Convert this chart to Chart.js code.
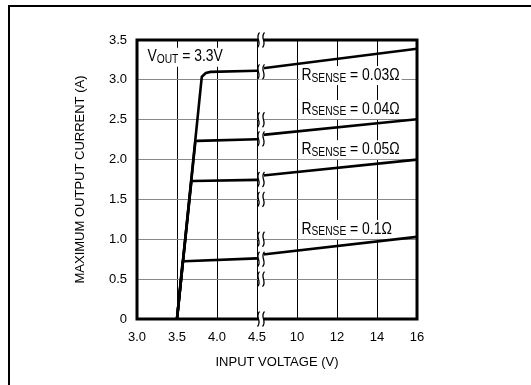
<!DOCTYPE html>
<html><head><meta charset="utf-8">
<script src="https://cdn.jsdelivr.net/npm/chart.js@4/dist/chart.umd.min.js"></script>
<style>html,body{margin:0;padding:0;background:#fff}#wrap{width:531px;height:385px}</style>
</head><body><div id="wrap"><canvas id="c" width="531" height="385"></canvas></div>
<script>
// ---- data (input voltage V, max output current A) ----
const xTickLabels = ['3.0','3.5','4.0','4.5','10','12','14','16'];
const yTickValues = [0, 0.5, 1.0, 1.5, 2.0, 2.5, 3.0, 3.5];

const v003Left  = [3.5, 3.81, 3.86, 3.92, 4.5];
const i003Left  = [0, 3.04, 3.085, 3.10, 3.115];
const v003Right = [8.3, 16];
const i003Right = [3.145, 3.39];

const v004Left  = [3.5, 3.73, 3.76, 4.5];
const i004Left  = [0, 2.23, 2.235, 2.255];
const v004Right = [8.3, 16];
const i004Right = [2.31, 2.505];

const v005Left  = [3.5, 3.68, 3.70, 4.5];
const i005Left  = [0, 1.73, 1.732, 1.745];
const v005Right = [8.3, 16];
const i005Right = [1.80, 2.00];

const v01Left   = [3.5, 3.57, 3.59, 4.5];
const i01Left   = [0, 0.72, 0.725, 0.76];
const v01Right  = [8.3, 16];
const i01Right  = [0.81, 1.03];

const breakCurrents = [3.5, 3.1, 2.5, 2.26, 1.75, 1.5, 1.0, 0.75, 0.5, 0];

// broken x axis: 3.0..4.5 in 0.5 steps, then 10..16 in 2 V steps
function xPos(v) { return v <= 4.5 ? (v - 3) / 0.5 : 4 + (v - 10) / 2; }
function pts(vs, is) { return vs.map((v, k) => ({x: xPos(v), y: is[k]})); }

const FONT = "'Liberation Sans', Arial, Helvetica, sans-serif";

const notes = [
  {v: 3.13, i: 3.29, a: 'V', sub: 'OUT', b: ' = 3.3V'},
  {v: 10.22, i: 3.06, a: 'R', sub: 'SENSE', b: ' = 0.03Ω'},
  {v: 10.22, i: 2.635, a: 'R', sub: 'SENSE', b: ' = 0.04Ω'},
  {v: 10.22, i: 2.13, a: 'R', sub: 'SENSE', b: ' = 0.05Ω'},
  {v: 10.22, i: 1.13, a: 'R', sub: 'SENSE', b: ' = 0.1Ω'}
];

function ds(vs, is) {
  return {data: pts(vs, is), showLine: true, borderColor: '#000', borderWidth: 2.6,
          pointRadius: 0, tension: 0, borderJoinStyle: 'round', borderCapStyle: 'butt', fill: false};
}

const decor = {
  id: 'decor',
  beforeDraw(chart) {
    const ctx = chart.ctx;
    ctx.save();
    ctx.fillStyle = '#fff';
    ctx.fillRect(0, 0, chart.width, chart.height);
    ctx.strokeStyle = '#000';
    ctx.lineWidth = 2;
    ctx.beginPath();
    ctx.moveTo(9, chart.height);
    ctx.lineTo(9, 6);
    ctx.lineTo(chart.width, 6);
    ctx.stroke();
    ctx.restore();
  },
  beforeDatasetsDraw(chart) {
    const ctx = chart.ctx, xs = chart.scales.x, ys = chart.scales.y;
    const sx = 0.82;
    ctx.save();
    notes.forEach(n => {
      const x = xs.getPixelForValue(xPos(n.v));
      const y = ys.getPixelForValue(n.i);
      const big = "17px " + FONT, small = "12.5px " + FONT;
      ctx.font = big; const wa = ctx.measureText(n.a).width; const wb = ctx.measureText(n.b).width;
      ctx.font = small; const ws = ctx.measureText(n.sub).width;
      const w = (wa + ws + wb) * sx;
      ctx.fillStyle = '#fff';
      ctx.fillRect(x - 2, y - 9, w + 4, 19);
      ctx.save();
      ctx.translate(x, y);
      ctx.scale(sx, 1);
      ctx.fillStyle = '#000';
      ctx.textBaseline = 'middle';
      ctx.textAlign = 'left';
      ctx.font = big; ctx.fillText(n.a, 0, 0);
      ctx.font = small; ctx.fillText(n.sub, wa, 3);
      ctx.font = big; ctx.fillText(n.b, wa + ws, 0);
      ctx.restore();
    });
    ctx.restore();
  },
  afterDatasetsDraw(chart) {
    const ctx = chart.ctx, a = chart.chartArea, xs = chart.scales.x, ys = chart.scales.y;
    ctx.save();
    ctx.strokeStyle = '#000';
    ctx.lineWidth = 3;
    ctx.strokeRect(a.left, a.top, a.right - a.left, a.bottom - a.top);
    const cx = xs.getPixelForValue(xPos(4.5)) + 4;
    breakCurrents.forEach(c => {
      const cy = ys.getPixelForValue(c);
      const h = 7.5;
      ctx.fillStyle = '#fff';
      ctx.fillRect(cx - 3, cy - h, 6, 2 * h);
      ctx.lineWidth = 1.3;
      [-2.5, 2.5].forEach(dx => {
        const x0 = cx + dx;
        ctx.beginPath();
        ctx.moveTo(x0 + 1, cy - h);
        ctx.bezierCurveTo(x0 - 4, cy - 2, x0 + 4, cy + 2, x0 - 1, cy + h);
        ctx.stroke();
      });
    });
    ctx.restore();
  }
};

new Chart(document.getElementById('c'), {
  type: 'scatter',
  data: {datasets: [
    ds(v003Left, i003Left), ds(v003Right, i003Right),
    ds(v004Left, i004Left), ds(v004Right, i004Right),
    ds(v005Left, i005Left), ds(v005Right, i005Right),
    ds(v01Left, i01Left), ds(v01Right, i01Right)
  ]},
  options: {
    responsive: false, animation: false, devicePixelRatio: 1,
    layout: {padding: {left: 66, right: 114, top: 40, bottom: 0}},
    plugins: {legend: {display: false}, tooltip: {enabled: false}},
    scales: {
      x: {
        type: 'linear', min: 0, max: 7,
        afterFit: s => { s.height = 66; },
        afterBuildTicks: s => { s.ticks = xTickLabels.map((_, k) => ({value: k})); },
        ticks: {callback: v => xTickLabels[v], font: {family: FONT, size: 13}, color: '#000',
                padding: 11, autoSkip: false, maxRotation: 0},
        grid: {color: '#000', lineWidth: 1, drawTicks: false},
        border: {display: false},
        title: {display: true, text: 'INPUT VOLTAGE (V)', color: '#000',
                font: {family: FONT, size: 13}, padding: {top: 0, bottom: 15}}
      },
      y: {
        type: 'linear', min: 0, max: 3.5,
        afterFit: s => { s.width = 71; },
        afterBuildTicks: s => { s.ticks = yTickValues.map(v => ({value: v})); },
        ticks: {callback: v => (v === 0 ? '0' : v.toFixed(1)), font: {family: FONT, size: 13},
                color: '#000', padding: 10},
        grid: {color: '#888', lineWidth: 1, drawTicks: false},
        border: {display: false},
        title: {display: true, text: 'MAXIMUM OUTPUT CURRENT (A)', color: '#000',
                font: {family: FONT, size: 13}, padding: {top: 7, bottom: 0}}
      }
    }
  },
  plugins: [decor]
});
</script></body></html>
